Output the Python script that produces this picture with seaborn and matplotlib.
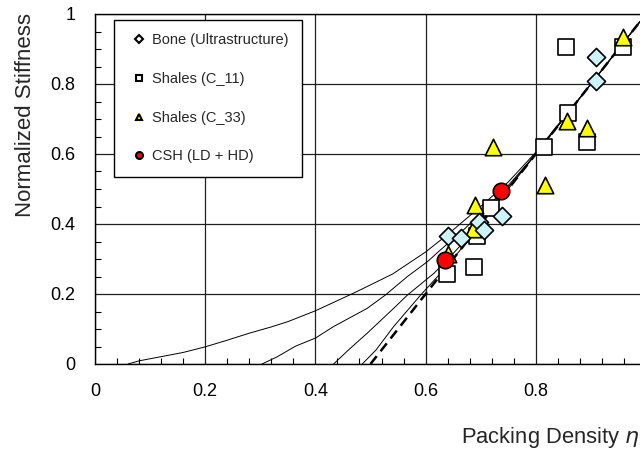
import matplotlib
matplotlib.use("Agg")
import matplotlib.pyplot as plt
import seaborn as sns
import numpy as np
import pandas as pd
from matplotlib.lines import Line2D
from matplotlib.ticker import MultipleLocator

# Datos
bone_x = [0.640, 0.665, 0.697, 0.706, 0.738, 0.909, 0.909]
bone_y = [0.367, 0.360, 0.406, 0.383, 0.422, 0.809, 0.877]

c11_x = [0.638, 0.688, 0.694, 0.718, 0.815, 0.858, 0.893, 0.855, 0.958]
c11_y = [0.257, 0.276, 0.365, 0.445, 0.621, 0.716, 0.635, 0.905, 0.905]

c33_x = [0.640, 0.686, 0.689, 0.723, 0.816, 0.856, 0.893, 0.958]
c33_y = [0.315, 0.386, 0.454, 0.620, 0.511, 0.695, 0.675, 0.934]

csh_x = [0.636, 0.736]
csh_y = [0.297, 0.494]

# Curvas del modelo (4 curvas finas + recta discontinua)
curve1_x = [0.06, 0.08, 0.12, 0.16, 0.20, 0.24, 0.28, 0.32, 0.35, 0.40, 0.47, 0.54, 0.60, 0.64, 0.70, 0.75, 0.80, 0.90, 1.00]
curve1_y = [0.0, 0.009, 0.021, 0.033, 0.049, 0.068, 0.088, 0.106, 0.121, 0.152, 0.203, 0.257, 0.320, 0.370, 0.450, 0.520, 0.605, 0.800, 1.0]
curve2_x = [0.303, 0.33, 0.364, 0.40, 0.433, 0.494, 0.527, 0.567, 0.603, 0.627, 0.67, 0.70, 0.75, 0.80, 0.90, 1.00]
curve2_y = [0.0, 0.020, 0.051, 0.074, 0.107, 0.159, 0.197, 0.250, 0.292, 0.326, 0.385, 0.430, 0.510, 0.600, 0.800, 1.0]
curve3_x = [0.433, 0.46, 0.494, 0.542, 0.567, 0.615, 0.639, 0.67, 0.70, 0.75, 0.80, 0.90, 1.00]
curve3_y = [0.0, 0.040, 0.088, 0.159, 0.197, 0.259, 0.297, 0.350, 0.410, 0.505, 0.600, 0.800, 1.0]
curve4_x = [0.485, 0.51, 0.542, 0.591, 0.627, 0.66, 0.70, 0.75, 0.80, 0.90, 1.00]
curve4_y = [0.0, 0.040, 0.107, 0.197, 0.259, 0.320, 0.400, 0.500, 0.600, 0.800, 1.0]
dashed_x = [0.5, 1.0]
dashed_y = [0.0, 1.0]

tick_vals = [0, 0.2, 0.4, 0.6, 0.8]
tick_labels = ['0', '0.2', '0.4', '0.6', '0.8']

sns.set_style("white")
plt.rcParams['font.family'] = ['Liberation Sans', 'DejaVu Sans']
plt.rcParams['mathtext.fontset'] = 'dejavusans'

fig = plt.figure(figsize=(6.4, 4.5), dpi=100)
ax = fig.add_axes([95 / 640, 86 / 450, 551 / 640, 350 / 450])

# Curvas finas
for cx, cy in [(curve1_x, curve1_y), (curve2_x, curve2_y),
               (curve3_x, curve3_y), (curve4_x, curve4_y)]:
    sns.lineplot(x=cx, y=cy, ax=ax, color='black', linewidth=0.7,
                 sort=False, estimator=None, zorder=2)
sns.lineplot(x=dashed_x, y=dashed_y, ax=ax, color='black', linewidth=1.8,
             linestyle=(0, (4, 2.5)), estimator=None, zorder=2)

# Puntos experimentales
sns.scatterplot(x=c11_x, y=c11_y, ax=ax, marker='s', s=140, color='white',
                edgecolor='black', linewidth=1.2, zorder=3)
sns.scatterplot(x=c33_x, y=c33_y, ax=ax, marker='^', s=140, color='#ffff00',
                edgecolor='black', linewidth=1.2, zorder=4)
sns.scatterplot(x=bone_x, y=bone_y, ax=ax, marker='D', s=85, color='#ccf4f8',
                edgecolor='black', linewidth=1.2, zorder=5)
sns.scatterplot(x=csh_x, y=csh_y, ax=ax, marker='o', s=140, color='#ff0000',
                edgecolor='black', linewidth=1.2, zorder=6)

ax.set_xlim(0, 1)
ax.set_ylim(0, 1)
ax.xaxis.set_minor_locator(MultipleLocator(0.04))
ax.yaxis.set_minor_locator(MultipleLocator(0.05))
ax.set_xticks(tick_vals)
ax.set_xticklabels(tick_labels)
ax.set_yticks(tick_vals + [1.0])
ax.set_yticklabels(tick_labels + ['1'])
ax.tick_params(which='major', direction='in', length=0, labelsize=13, pad=14, colors='black')
ax.tick_params(which='minor', direction='in', length=4, width=0.8, color='black')
ax.tick_params(which='minor', bottom=True, left=True)
ax.grid(True, which='major', color='#202020', linewidth=0.9)
ax.axvline(1.0, color='#202020', linewidth=0.9, zorder=0.5)
ax.set_axisbelow(True)
for sp in ax.spines.values():
    sp.set_color('black')
    sp.set_linewidth(1.0)

ax.set_ylabel('Normalized Stiffness', fontsize=16)
ax.yaxis.set_label_coords(-0.107, 0.711)
fig.text(461 / 640, 7 / 450, 'Packing Density $\\eta$', fontsize=15.8,
         ha='left', va='baseline')

handles = [
    Line2D([], [], marker='D', ms=4, color='none', markerfacecolor='white',
           markeredgecolor='black', markeredgewidth=1.5, linestyle='none'),
    Line2D([], [], marker='s', ms=4.5, color='none', markerfacecolor='white',
           markeredgecolor='black', markeredgewidth=1.5, linestyle='none'),
    Line2D([], [], marker='^', ms=5, color='none', markerfacecolor='#ffff00',
           markeredgecolor='black', markeredgewidth=1.5, linestyle='none'),
    Line2D([], [], marker='o', ms=5, color='none', markerfacecolor='#ff0000',
           markeredgecolor='black', markeredgewidth=1.5, linestyle='none'),
]
labels = ['Bone (Ultrastructure)', 'Shales (C_11)', 'Shales (C_33)', 'CSH (LD + HD)']
leg = ax.legend(handles, labels, loc='upper left',
                bbox_to_anchor=(0.0345, 0.983), fontsize=10.5, frameon=True,
                fancybox=False, framealpha=1, edgecolor='black',
                borderpad=0.9, labelspacing=1.7, handlelength=1.6,
                handletextpad=0.1, borderaxespad=0)
leg.get_frame().set_linewidth(1.0)
leg.set_zorder(10)

fig.savefig('out.png', dpi=100)
